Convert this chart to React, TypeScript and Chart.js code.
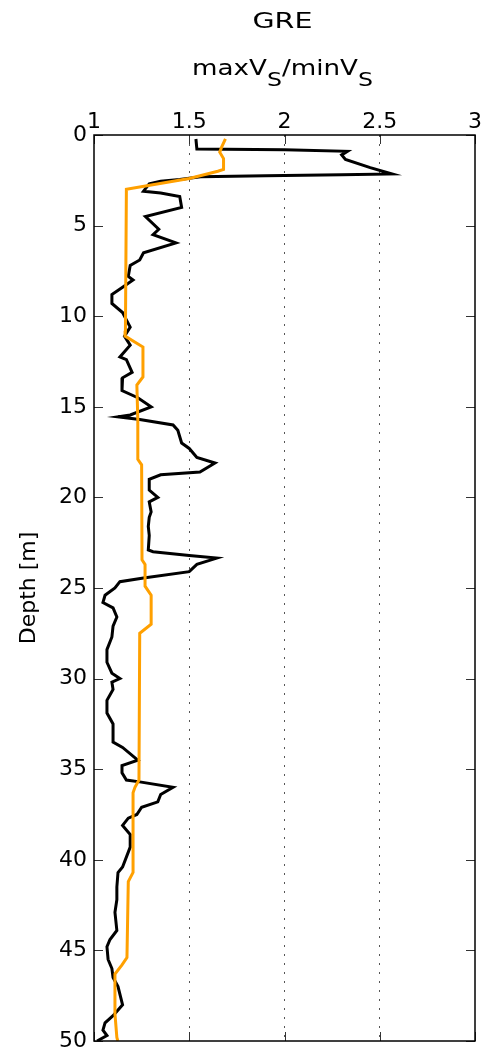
import React, { useEffect, useRef } from "react";
import { Chart, registerables } from "chart.js";

Chart.register(...registerables);

// ---- data ----
const titleTop = "GRE";
const yAxisTitle = "Depth [m]";
const xTickValues = [1, 1.5, 2, 2.5, 3];
const depthTickValues = [0, 5, 10, 15, 20, 25, 30, 35, 40, 45, 50];

// black curve: ratio (x) vs depth (y)
const blackRatio = [
  1.535, 1.54, 2.0, 2.33, 2.3, 2.32, 2.45, 2.565, 2.3, 1.9, 1.56, 1.45, 1.35, 1.29, 1.26, 1.35,
  1.45, 1.46, 1.27, 1.34, 1.31, 1.43, 1.26, 1.24, 1.19, 1.18, 1.205, 1.15, 1.094, 1.094, 1.15,
  1.17, 1.19, 1.16, 1.19, 1.136, 1.17, 1.2, 1.15, 1.147, 1.23, 1.3, 1.19, 1.126, 1.24, 1.415,
  1.44, 1.46, 1.5, 1.54, 1.635, 1.556, 1.35, 1.29, 1.29, 1.335, 1.29, 1.3, 1.29, 1.285, 1.29,
  1.285, 1.31, 1.5, 1.645, 1.54, 1.5, 1.26, 1.136, 1.11, 1.058, 1.047, 1.1, 1.12, 1.1, 1.094,
  1.068, 1.068, 1.094, 1.136, 1.094, 1.1, 1.068, 1.068, 1.1, 1.1, 1.15, 1.23, 1.147, 1.147,
  1.17, 1.24, 1.415, 1.35, 1.335, 1.25, 1.225, 1.18, 1.15, 1.19, 1.19, 1.15, 1.126, 1.12, 1.12,
  1.11, 1.12, 1.084, 1.068, 1.074, 1.094, 1.1, 1.126, 1.15, 1.1, 1.058, 1.047, 1.068, 1.016,
];
const blackDepth = [
  0.22, 0.77, 0.82, 0.9, 1.1, 1.35, 1.8, 2.15, 2.2, 2.25, 2.3, 2.45, 2.55, 2.7, 3.1, 3.2,
  3.4, 4.0, 4.5, 5.2, 5.5, 5.95, 6.5, 6.9, 7.2, 7.8, 8.0, 8.4, 8.8, 9.3, 9.8,
  10.2, 10.6, 11.1, 11.6, 12.25, 12.4, 13.1, 13.4, 14.1, 14.5, 15.0, 15.45, 15.55, 15.7, 16.0,
  16.3, 17.0, 17.3, 17.8, 18.1, 18.6, 18.75, 19.0, 19.6, 20.0, 20.25, 20.8, 21.1, 21.6, 22.1,
  22.9, 23.0, 23.2, 23.35, 23.7, 24.1, 24.45, 24.65, 25.0, 25.4, 25.8, 26.1, 26.6, 27.1, 27.7,
  28.4, 29.1, 29.7, 30.0, 30.2, 30.6, 31.2, 31.9, 32.5, 33.5, 33.8, 34.5, 34.8, 35.2,
  35.6, 35.7, 36.0, 36.4, 36.8, 37.1, 37.5, 37.7, 38.1, 38.6, 39.3, 40.4, 40.7, 41.5, 42.2,
  42.9, 43.9, 44.4, 44.8, 45.5, 46.0, 46.5, 47.0, 48.0, 48.6, 49.0, 49.4, 49.7, 50.0,
];

// orange curve
const orangeRatio = [
  1.69, 1.67, 1.66, 1.68, 1.68, 1.65, 1.5, 1.17, 1.165, 1.163, 1.257, 1.257, 1.225, 1.23, 1.23,
  1.25, 1.252, 1.268, 1.268, 1.3, 1.3, 1.24, 1.236, 1.215, 1.205, 1.205, 1.18, 1.173, 1.147,
  1.11, 1.11, 1.12, 1.125,
];
const orangeDepth = [
  0.22, 0.67, 0.95, 1.3, 1.9, 2.0, 2.4, 3.0, 10.8, 11.1, 11.7, 13.35, 13.8, 15.7, 17.9,
  18.2, 23.45, 23.7, 24.9, 25.4, 27.0, 27.5, 35.6, 36.0, 36.3, 40.7, 41.2, 45.4, 45.8,
  46.3, 48.5, 49.8, 50.0,
];

const FONT = "DejaVu Sans";

const framePlugin = {
  id: "frameAndTitles",
  afterDatasetsDraw(chart: any) {
    const { ctx, chartArea } = chart;
    const { left, right, top, bottom } = chartArea;
    const xs = chart.scales.x;
    const ys = chart.scales.y;
    ctx.save();
    // inward ticks
    ctx.strokeStyle = "#333";
    ctx.lineWidth = 1;
    const tl = 9;
    ctx.beginPath();
    xTickValues.forEach((v) => {
      const px = Math.round(xs.getPixelForValue(v)) + 0.5;
      ctx.moveTo(px, top);
      ctx.lineTo(px, top + tl);
      ctx.moveTo(px, bottom);
      ctx.lineTo(px, bottom - tl);
    });
    depthTickValues.forEach((v) => {
      const py = Math.round(ys.getPixelForValue(v)) + 0.5;
      ctx.moveTo(left, py);
      ctx.lineTo(left + tl, py);
      ctx.moveTo(right, py);
      ctx.lineTo(right - tl, py);
    });
    ctx.stroke();
    // frame
    ctx.strokeStyle = "#000";
    ctx.lineWidth = 1.5;
    ctx.strokeRect(left, top, right - left, bottom - top);
    ctx.restore();
  },
  afterDraw(chart: any) {
    const { ctx, chartArea } = chart;
    const cx = (chartArea.left + chartArea.right) / 2 - 2;
    ctx.save();
    ctx.fillStyle = "#000";
    ctx.textBaseline = "alphabetic";
    // top title
    ctx.font = `21px ${FONT}`;
    const wTop = ctx.measureText(titleTop).width;
    const sTop = 60 / wTop;
    ctx.save();
    ctx.translate(cx, 28);
    ctx.scale(sTop, 1);
    ctx.textAlign = "center";
    ctx.fillText(titleTop, 0, 0);
    ctx.restore();
    // second title with subscripts
    const pieces: [string, boolean][] = [
      ["maxV", false],
      ["S", true],
      ["/minV", false],
      ["S", true],
    ];
    const mainFont = `21px ${FONT}`;
    const subFont = `19px ${FONT}`;
    ctx.textAlign = "left";
    let total = 0;
    const widths = pieces.map(([t, sub]) => {
      ctx.font = sub ? subFont : mainFont;
      const w = ctx.measureText(t).width;
      total += w;
      return w;
    });
    const s2 = 181 / total;
    ctx.save();
    ctx.translate(cx - 181 / 2, 75);
    ctx.scale(s2, 1);
    let x = 0;
    pieces.forEach(([t, sub], i) => {
      ctx.font = sub ? subFont : mainFont;
      ctx.fillText(t, x, sub ? 11 : 0);
      x += widths[i];
    });
    ctx.restore();
    ctx.restore();
  },
};

export default function App() {
  const ref = useRef<HTMLCanvasElement | null>(null);
  useEffect(() => {
    if (!ref.current) return;
    const blackData = blackRatio.map((v, i) => ({ x: v, y: blackDepth[i] }));
    const orangeData = orangeRatio.map((v, i) => ({ x: v, y: orangeDepth[i] }));
    const chart = new Chart(ref.current, {
      type: "scatter",
      data: {
        datasets: [
          {
            label: "orange",
            data: orangeData,
            showLine: true,
            borderColor: "#ffa000",
            backgroundColor: "#ffa000",
            borderWidth: 3,
            pointRadius: 0,
            tension: 0,
          },
          {
            label: "black",
            data: blackData,
            showLine: true,
            borderColor: "#000000",
            backgroundColor: "#000000",
            borderWidth: 3,
            pointRadius: 0,
            tension: 0,
          },
        ],
      },
      options: {
        responsive: false,
        animation: false,
        layout: { padding: { left: 0, top: 0, right: 6, bottom: 15 } },
        plugins: {
          legend: { display: false },
          tooltip: { enabled: false },
          title: { display: false },
        },
        scales: {
          x: {
            type: "linear",
            position: "top",
            min: 1,
            max: 3,
            afterBuildTicks: (scale: any) => {
              scale.ticks = xTickValues.map((v) => ({ value: v }));
            },
            afterFit: (scale: any) => {
              scale.height = 135;
              scale.paddingLeft = 0;
              scale.paddingRight = 0;
            },
            ticks: {
              color: "#000",
              font: { family: FONT, size: 22 },
              padding: 0,
              maxRotation: 0,
              autoSkip: false,
              callback: (v: any) => String(v),
            },
            grid: {
              drawTicks: false,
              color: (c: any) =>
                c.tick && (c.tick.value === 1 || c.tick.value === 3) ? "rgba(0,0,0,0)" : "#555",
              lineWidth: 1,
            },
            border: { display: false, dash: [2, 7] },
          },
          y: {
            type: "linear",
            reverse: true,
            min: 0,
            max: 50,
            afterBuildTicks: (scale: any) => {
              scale.ticks = depthTickValues.map((v) => ({ value: v }));
            },
            afterFit: (scale: any) => {
              scale.width = 94;
              scale.paddingTop = 0;
              scale.paddingBottom = 0;
            },
            ticks: {
              color: "#000",
              font: { family: FONT, size: 22 },
              padding: 7,
              autoSkip: false,
            },
            grid: { display: false, drawTicks: false },
            border: { display: false },
            title: {
              display: true,
              text: yAxisTitle,
              color: "#000",
              font: { family: FONT, size: 22 },
              padding: { top: 16, bottom: 0 },
            },
          },
        },
      },
      plugins: [framePlugin],
    });
    return () => chart.destroy();
  }, []);
  return (
    <div style={{ position: "absolute", left: 0, top: 0, width: 481, height: 1056, background: "#fff" }}>
      <canvas ref={ref} width={481} height={1056} style={{ display: "block" }} />
    </div>
  );
}
